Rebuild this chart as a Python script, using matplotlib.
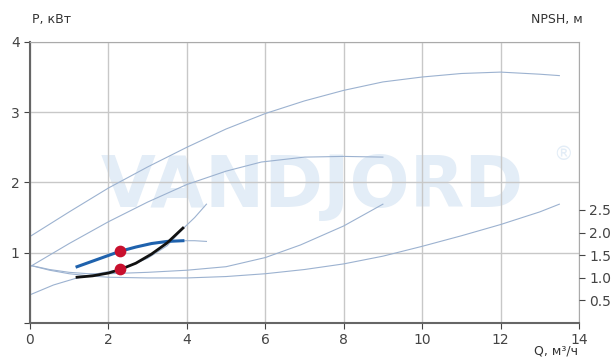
import matplotlib.pyplot as plt
import numpy as np

# thin reference curves (in left-axis units)
top_q = [0, 1, 2, 3, 4, 5, 6, 7, 8, 9, 10, 11, 12, 13, 13.5]
top_p = [1.23, 1.58, 1.92, 2.22, 2.5, 2.76, 2.98, 3.16, 3.31, 3.43, 3.5, 3.55, 3.57, 3.54, 3.52]

mid_q = [0, 1, 2, 3, 4, 5, 5.9, 7, 8, 9]
mid_p = [0.8, 1.13, 1.44, 1.72, 1.97, 2.16, 2.29, 2.36, 2.37, 2.36]

low_q = [0, 0.6, 1.2, 1.8, 2.3, 3.0, 3.5, 3.9, 4.2, 4.5]
low_p = [0.4, 0.54, 0.64, 0.71, 0.76, 0.92, 1.1, 1.34, 1.5, 1.69]

a_q = [0, 0.5, 1, 1.5, 2, 3, 4, 5, 6, 6.9, 8, 9]
a_p = [0.82, 0.76, 0.72, 0.7, 0.7, 0.72, 0.75, 0.8, 0.93, 1.11, 1.38, 1.69]

b_q = [0, 0.5, 1, 1.5, 2, 3, 4, 5, 6, 7, 8, 9, 10, 11, 12, 13, 13.5]
b_p = [0.82, 0.75, 0.7, 0.67, 0.65, 0.64, 0.64, 0.66, 0.7, 0.76, 0.84, 0.95, 1.09, 1.24, 1.4, 1.58, 1.69]

blue_thin_q = [3.9, 4.2, 4.5]
blue_thin_p = [1.17, 1.17, 1.16]

# highlighted working range
blue_q = [1.2, 1.6, 2.0, 2.3, 2.7, 3.1, 3.5, 3.9]
blue_p = [0.8, 0.88, 0.96, 1.02, 1.08, 1.13, 1.16, 1.17]
black_q = [1.2, 1.6, 2.0, 2.3, 2.7, 3.1, 3.5, 3.9]
black_p = [0.65, 0.67, 0.71, 0.76, 0.85, 0.98, 1.14, 1.35]

duty_q = [2.3, 2.3]
duty_p = [1.03, 0.77]

x_ticks = [0, 2, 4, 6, 8, 10, 12, 14]
y_ticks = [0, 1, 2, 3, 4]
npsh_ticks = [0.5, 1.0, 1.5, 2.0, 2.5]

fig = plt.figure(figsize=(6.12, 3.58), dpi=100)
ax = fig.add_axes([0.049, 0.098, 0.897, 0.785])

thin = '#9cb2d0'
ax.text(7.2, 1.93, 'VANDJORD', fontsize=51, fontweight='bold', color='#e3edf7',
        ha='center', va='center', zorder=0)
ax.text(13.6, 2.4, '®', fontsize=14, color='#e3edf7', ha='center', va='center', zorder=0)

for q, p in [(top_q, top_p), (mid_q, mid_p), (low_q, low_p), (a_q, a_p), (b_q, b_p),
             (blue_thin_q, blue_thin_p)]:
    ax.plot(q, p, color=thin, lw=0.8, zorder=2)

ax.plot(blue_q, blue_p, color='#1f62ad', lw=2.2, zorder=3)
ax.plot(black_q, black_p, color='#111111', lw=2.0, zorder=3)
ax.scatter(duty_q, duty_p, s=55, color='#c8102e', zorder=4)

ax.set_xlim(0, 14)
ax.set_ylim(0, 4)
ax.set_xticks(x_ticks)
ax.set_yticks(y_ticks)
ax.set_yticklabels(['', '1', '2', '3', '4'])
ax.grid(color='#c8c8c8', lw=1.0)
ax.set_axisbelow(True)
ax.tick_params(labelsize=10, colors='#444444', length=4)
for s in ['left', 'bottom']:
    ax.spines[s].set_color('#666666')
    ax.spines[s].set_linewidth(1.5)
for s in ['top', 'right']:
    ax.spines[s].set_color('#aaaaaa')

ax2 = ax.twinx()
ax2.set_ylim(0, 6.22)
ax2.set_yticks(npsh_ticks)
ax2.set_yticklabels(['0.5', '1.0', '1.5', '2.0', '2.5'])
ax2.tick_params(labelsize=10, colors='#444444', length=4)
for s in ax2.spines.values():
    s.set_visible(False)

fig.text(0.052, 0.935, 'P, кВт', fontsize=9, color='#333333')
fig.text(0.952, 0.935, 'NPSH, м', fontsize=9, color='#333333', ha='right')
fig.text(0.945, 0.01, 'Q, м³/ч', fontsize=9, color='#333333', ha='right')

fig.savefig('out.png', dpi=100)
